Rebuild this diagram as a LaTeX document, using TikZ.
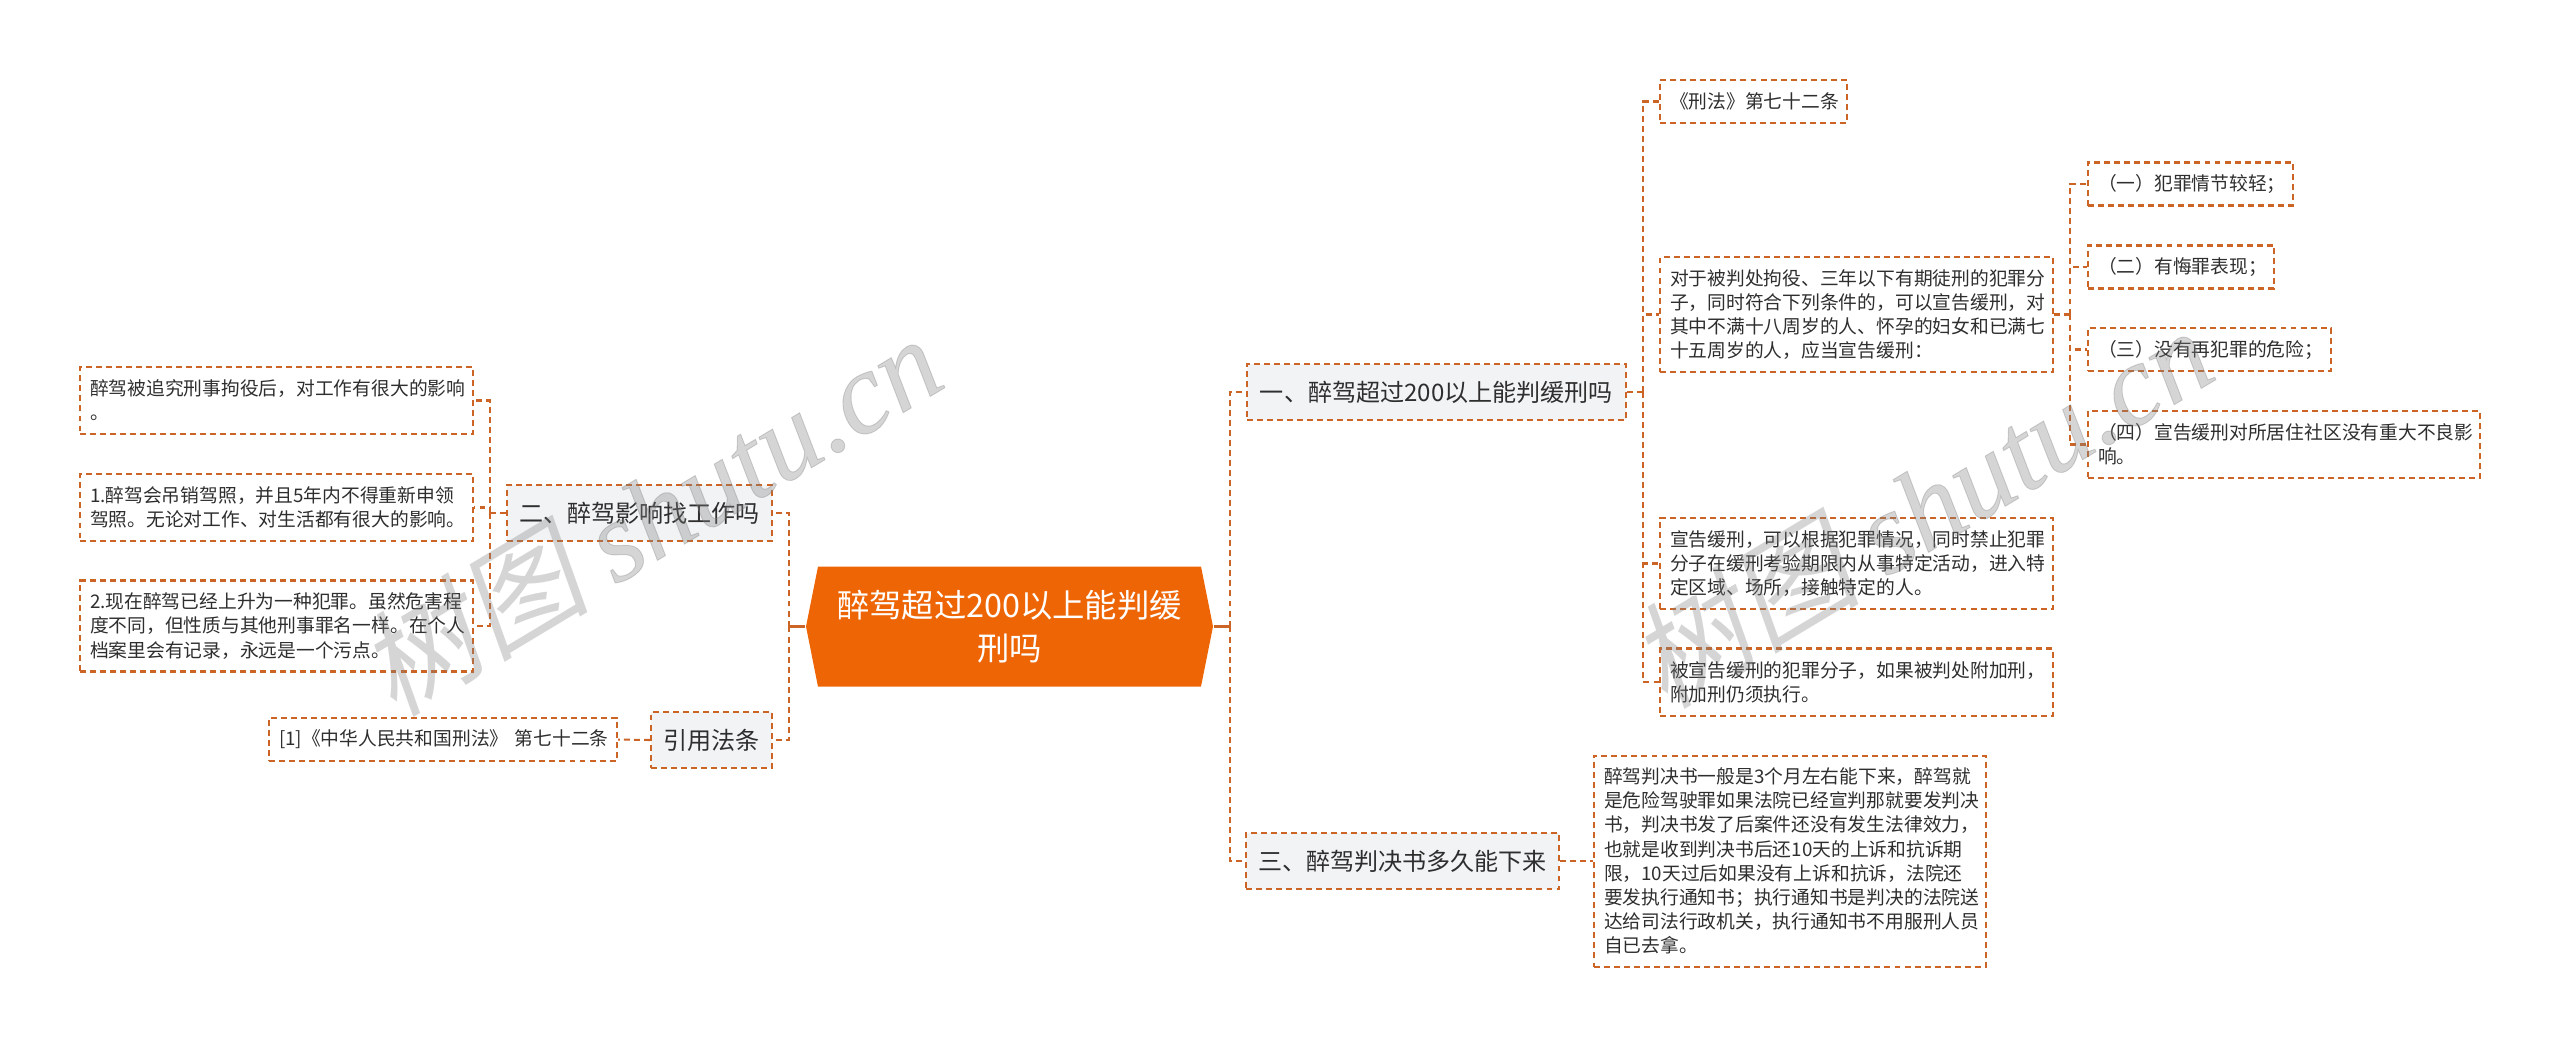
\documentclass[tikz,border=0pt]{standalone}
\usepackage{fontspec}
\setmainfont{Noto Sans CJK SC}
\newfontfamily\markcjk[FakeSlant=0.2]{Noto Sans CJK SC}
\newfontfamily\marklatin[ItalicFeatures={FakeBold=0.8}]{Liberation Serif}
\usetikzlibrary{shapes.symbols}
\definecolor{linkcol}{HTML}{CC6426}
\definecolor{rootcol}{HTML}{EE6506}
\definecolor{branchcol}{HTML}{F1F3F5}
\definecolor{textcol}{HTML}{2E2E2E}
\tikzset{
    link/.style={draw=linkcol,line width=.58pt,dash pattern=on 1.7pt off 1.15pt},
    stem/.style={draw=linkcol,line width=.85pt},
    rootbox/.style={shape=signal,signal to=east and west,signal pointer angle=157.4,
        fill=rootcol,text=white,inner sep=0pt,minimum width=4.07cm,minimum height=1.2cm,
        align=center,font=\fontsize{9.2}{12.3}\selectfont},
    branchbox/.style n args={2}{link,fill=branchcol,text=textcol,inner sep=0pt,
        minimum width=#1cm,minimum height=#2cm,align=center,font=\fontsize{6.85}{8}\selectfont},
    leafbox/.style n args={2}{link,text=textcol,inner sep=0pt,
        minimum width=#1cm,minimum height=#2cm,text width=#1cm-.2cm,align=left,font=\fontsize{5.34}{6.88}\selectfont},
    markbox/.style={text=gray,opacity=.33,rotate=31,font=\fontsize{33}{33}\selectfont},
}
\begin{document}
\begin{tikzpicture}
    \useasboundingbox (0,0) rectangle (25.6,-10.47);

    \node[rootbox] (root) at (10.095,-6.265) {醉驾超过200以上能判缓\\刑吗};

    \node[branchbox={3.79}{.56}] (n1) at (14.365,-3.92) {一、醉驾超过200以上能判缓刑吗};
    \node[branchbox={3.13}{.56}] (n3) at (14.025,-8.61) {三、醉驾判决书多久能下来};
    \node[branchbox={2.65}{.56}] (n2) at (6.395,-5.13) {二、醉驾影响找工作吗};
    \node[branchbox={1.21}{.56}] (n4) at (7.115,-7.40) {引用法条};

    % left side
    \node[leafbox={3.93}{.67}] (a1) at (2.765,-4.005) {醉驾被追究刑事拘役后，对工作有很大的影响\\。};
    \node[leafbox={3.93}{.67}] (a2) at (2.765,-5.075) {1.醉驾会吊销驾照，并且5年内不得重新申领\\驾照。无论对工作、对生活都有很大的影响。};
    \node[leafbox={3.93}{.91}] (a3) at (2.765,-6.26) {2.现在醉驾已经上升为一种犯罪。虽然危害程\\度不同，但性质与其他刑事罪名一样。在个人\\档案里会有记录，永远是一个污点。};
    \node[leafbox={3.48}{.43}] (ref) at (4.43,-7.395) {[1]《中华人民共和国刑法》~第七十二条};

    % right side
    \node[leafbox={1.87}{.43}] (b1) at (17.535,-1.015) {《刑法》第七十二条};
    \node[leafbox={3.93}{1.15}] (b2) at (18.565,-3.145) {对于被判处拘役、三年以下有期徒刑的犯罪分\\子，同时符合下列条件的，可以宣告缓刑，对\\其中不满十八周岁的人、怀孕的妇女和已满七\\十五周岁的人，应当宣告缓刑：};
    \node[leafbox={3.93}{.91}] (b3) at (18.565,-5.635) {宣告缓刑，可以根据犯罪情况，同时禁止犯罪\\分子在缓刑考验期限内从事特定活动，进入特\\定区域、场所，接触特定的人。};
    \node[leafbox={3.93}{.67}] (b4) at (18.565,-6.82) {被宣告缓刑的犯罪分子，如果被判处附加刑，\\附加刑仍须执行。};

    \node[leafbox={2.05}{.43}] (c1) at (21.905,-1.84) {（一）犯罪情节较轻；};
    \node[leafbox={1.86}{.43}] (c2) at (21.81,-2.67) {（二）有悔罪表现；};
    \node[leafbox={2.43}{.43}] (c3) at (22.095,-3.495) {（三）没有再犯罪的危险；};
    \node[leafbox={3.92}{.67}] (c4) at (22.84,-4.445) {（四）宣告缓刑对所居住社区没有重大不良影\\响。};

    \node[leafbox={3.92}{2.11}] (d1) at (17.9,-8.61) {醉驾判决书一般是3个月左右能下来，醉驾就\\是危险驾驶罪如果法院已经宣判那就要发判决\\书，判决书发了后案件还没有发生法律效力，\\也就是收到判决书后还10天的上诉和抗诉期\\限，10天过后如果没有上诉和抗诉，法院还\\要发执行通知书；执行通知书是判决的法院送\\达给司法行政机关，执行通知书不用服刑人员\\自已去拿。};

    \coordinate (busR) at (12.3,-6.265);
    \coordinate (busL) at (7.89,-6.265);
    \coordinate (busA) at (4.9,-5.13);
    \coordinate (busB) at (16.43,-3.92);
    \coordinate (busC) at (20.7,-3.145);

    \path [stem] (root.east) -- (busR);
    \path [stem] (root.west) -- (busL);

    \path [link] (busR) |- (n1.west);
    \path [link] (busR) |- (n3.west);
    \path [link] (busL) |- (n2.east);
    \path [link] (busL) |- (n4.east);

    \path [link] (n2.west) -- (busA);
    \path [link] (busA) |- (a1.east);
    \path [link] (busA) |- (a2.east);
    \path [link] (busA) |- (a3.east);
    \path [link] (n4.west) -- (ref.east);

    \path [link] (n1.east) -- (busB);
    \path [link] (busB) |- (b1.west);
    \path [link] (busB) |- (b2.west);
    \path [link] (busB) |- (b3.west);
    \path [link] (busB) |- (b4.west);

    \path [link] (b2.east) -- (busC);
    \path [link] (busC) |- (c1.west);
    \path [link] (busC) |- (c2.west);
    \path [link] (busC) |- (c3.west);
    \path [link] (busC) |- (c4.west);

    \path [link] (n3.east) -- (d1.west);

    \node[markbox] (wm1) at (6.49,-5.14) {{\markcjk 树图} {\marklatin\itshape shutu.cn}};
    \node[markbox] (wm2) at (19.2,-5.06) {{\markcjk 树图} {\marklatin\itshape shutu.cn}};
\end{tikzpicture}
\end{document}
